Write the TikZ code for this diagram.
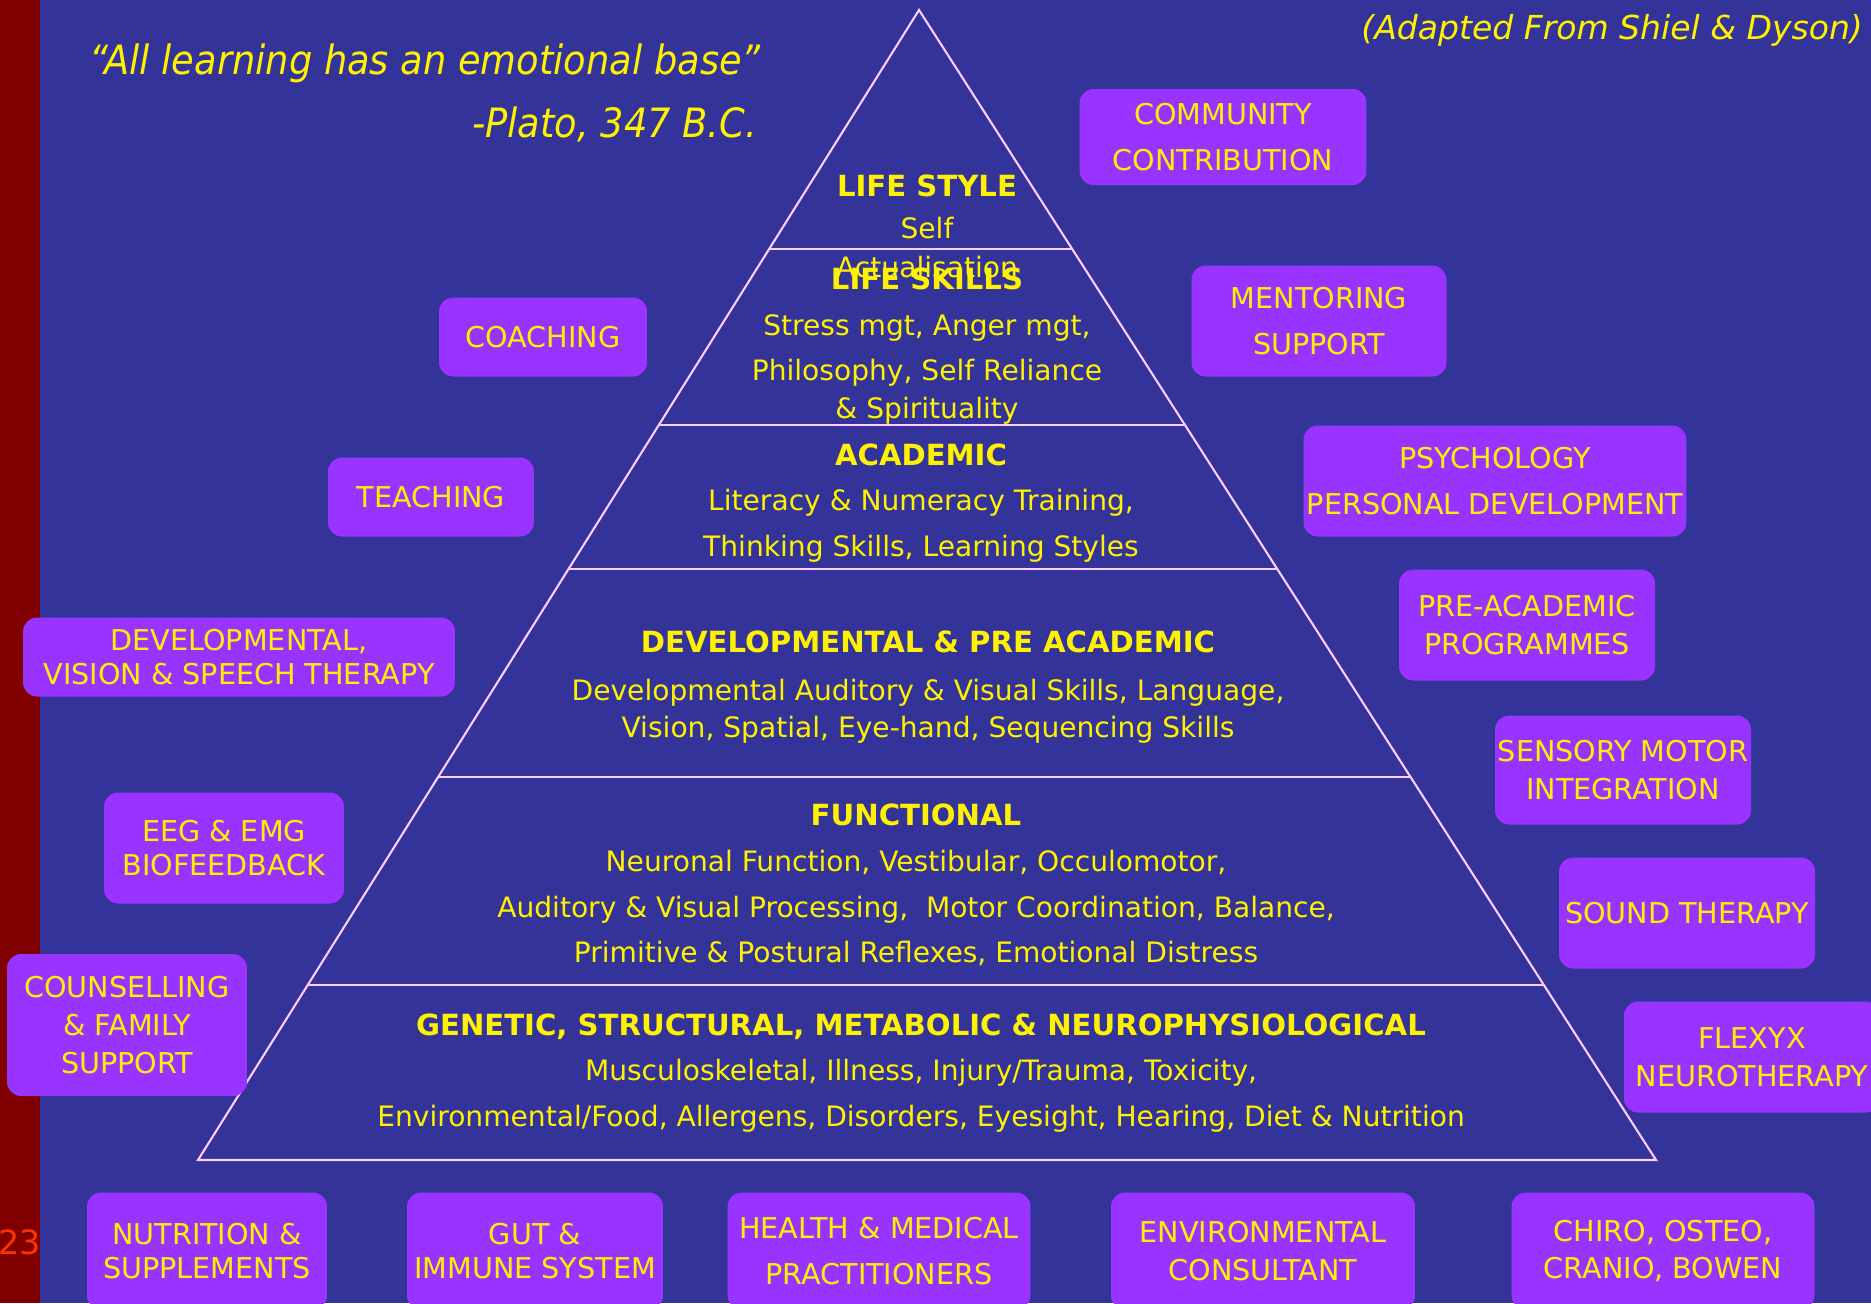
\documentclass[tikz,border=0pt]{standalone}
\usepackage{fontspec}
\setmainfont{DejaVu Sans}
\newfontfamily\quotefont{DejaVu Sans}[FakeStretch=0.91]
\usepackage{xcolor}
\usepackage{tikz}
\usetikzlibrary{positioning, calc}

\definecolor{slideblue}{HTML}{333399}
\definecolor{stripred}{HTML}{800000}
\definecolor{tagpurple}{HTML}{9933FF}
\definecolor{edgepink}{HTML}{FFCCFF}
\definecolor{pagered}{HTML}{FF3300}

\tikzset{
  pyramid/.style={edgepink, line width=1.2pt},
  tag/.style={fill=tagpurple, rounded corners=8pt, inner sep=0pt, align=center,
    text=yellow, font=\fontsize{16.3}{21.5}\selectfont},
  tag loose/.style={tag, font=\fontsize{16.3}{26}\selectfont},
  level/.style={text=yellow, align=center, font=\fontsize{16}{26}\selectfont},
}

\begin{document}
\begin{tikzpicture}[x=0.02cm, y=-0.02cm]
 \useasboundingbox (0,0) rectangle (1871,1303);
 \clip (0,0) rectangle (1871,1303);
 \fill[slideblue] (0,0) rectangle (1871,1303);
 \fill[stripred] (0,0) rectangle (40,1303);
 \node[anchor=west, text=pagered, font=\fontsize{19}{19}\selectfont] (page) at (-8,1242) {23};

 % quote and source
 \node[anchor=east, text=yellow, font=\quotefont\itshape\fontsize{23}{23}\selectfont] (quote) at (767,63) {“All learning has an emotional base”};
 \node[anchor=east, text=yellow, font=\quotefont\itshape\fontsize{23}{23}\selectfont] (plato) at (763,124) {-Plato, 347 B.C.};
 \node[anchor=east, text=yellow, font=\itshape\fontsize{18.8}{19}\selectfont] (source) at (1869,30) {(Adapted From Shiel \& Dyson)};

 % pyramid
 \coordinate (apex) at (919,10);
 \coordinate (bl) at (198,1160);
 \coordinate (br) at (1656,1160);
 \draw[pyramid] (apex) -- (bl) -- (br) -- cycle;
 \foreach \t in {0.208,0.361,0.486,0.667,0.848}
   \draw[pyramid] ($(apex)!\t!(bl)$) -- ($(apex)!\t!(br)$);

 \node[level] (lifestyle) at (927,226) {{\bfseries\fontsize{16.6}{26}\selectfont LIFE STYLE}\\[-2pt] Self\\[-4pt] Actualisation};
 \node[level] (lifeskills) at (927,346) {{\bfseries\fontsize{16.6}{26}\selectfont LIFE SKILLS}\\ Stress mgt, Anger mgt,\\ Philosophy, Self Reliance\\[-4.5pt] \& Spirituality};
 \node[level] (academic) at (921,503) {{\bfseries\fontsize{16.6}{26}\selectfont ACADEMIC}\\ Literacy \& Numeracy Training,\\ Thinking Skills, Learning Styles};
 \node[level] (develop) at (928,687) {{\bfseries\fontsize{16.6}{26}\selectfont DEVELOPMENTAL \& PRE ACADEMIC}\\[1pt] Developmental Auditory \& Visual Skills, Language,\\[-5pt] Vision, Spatial, Eye-hand, Sequencing Skills};
 \node[level] (functional) at (916,885) {{\bfseries\fontsize{16.6}{26}\selectfont FUNCTIONAL}\\ Neuronal Function, Vestibular, Occulomotor,\\ Auditory \& Visual Processing,\ \ Motor Coordination, Balance,\\ Primitive \& Postural Reflexes, Emotional Distress};
 \node[level] (genetic) at (921,1073) {{\bfseries\fontsize{16.6}{26}\selectfont GENETIC, STRUCTURAL, METABOLIC \& NEUROPHYSIOLOGICAL}\\ Musculoskeletal, Illness, Injury/Trauma, Toxicity,\\ Environmental/Food, Allergens, Disorders, Eyesight, Hearing, Diet \& Nutrition};

 % right hand tags
 \node[tag loose, minimum width=5.74cm, minimum height=1.92cm] (community) at (1223,137) {COMMUNITY\\ CONTRIBUTION};
 \node[tag loose, minimum width=5.10cm, minimum height=2.22cm] (mentoring) at (1319,321) {MENTORING\\ SUPPORT};
 \node[tag loose, minimum width=7.66cm, minimum height=2.22cm] (psychology) at (1495,481) {PSYCHOLOGY\\ PERSONAL DEVELOPMENT};
 \node[tag, minimum width=5.12cm, minimum height=2.22cm] (preacademic) at (1527,625) {PRE-ACADEMIC\\ PROGRAMMES};
 \node[tag, minimum width=5.12cm, minimum height=2.18cm] (sensory) at (1623,770) {SENSORY MOTOR\\ INTEGRATION};
 \node[tag, minimum width=5.12cm, minimum height=2.22cm] (sound) at (1687,913) {SOUND THERAPY};
 \node[tag, minimum width=5.12cm, minimum height=2.22cm] (flexyx) at (1752,1057) {FLEXYX\\ NEUROTHERAPY};

 % left hand tags
 \node[tag, minimum width=4.16cm, minimum height=1.58cm] (coaching) at (543,337) {COACHING};
 \node[tag, minimum width=4.12cm, minimum height=1.58cm] (teaching) at (431,497) {TEACHING};
 \node[tag, minimum width=8.64cm, minimum height=1.58cm, font=\fontsize{16.3}{19}\selectfont] (therapy) at (239,657) {DEVELOPMENTAL,\\ VISION \& SPEECH THERAPY};
 \node[tag, minimum width=4.80cm, minimum height=2.22cm, font=\fontsize{16.3}{19}\selectfont] (eeg) at (224,848) {EEG \& EMG\\ BIOFEEDBACK};
 \node[tag, minimum width=4.80cm, minimum height=2.84cm] (counselling) at (127,1025) {COUNSELLING\\ \& FAMILY\\ SUPPORT};

 % bottom row
 \node[tag, minimum width=4.80cm, minimum height=2.34cm, font=\fontsize{16.3}{19.5}\selectfont] (nutrition) at (207,1251) {NUTRITION \&\\ SUPPLEMENTS};
 \node[tag, minimum width=5.12cm, minimum height=2.34cm, font=\fontsize{16.3}{19.5}\selectfont] (gut) at (535,1251) {GUT \&\\ IMMUNE SYSTEM};
 \node[tag loose, minimum width=6.06cm, minimum height=2.34cm] (health) at (879,1251) {HEALTH \& MEDICAL\\ PRACTITIONERS};
 \node[tag, minimum width=6.08cm, minimum height=2.34cm] (environment) at (1263,1251) {ENVIRONMENTAL\\ CONSULTANT};
 \node[tag, minimum width=6.06cm, minimum height=2.34cm] (chiro) at (1663,1251) {CHIRO, OSTEO,\\ CRANIO, BOWEN};
\end{tikzpicture}
\end{document}
